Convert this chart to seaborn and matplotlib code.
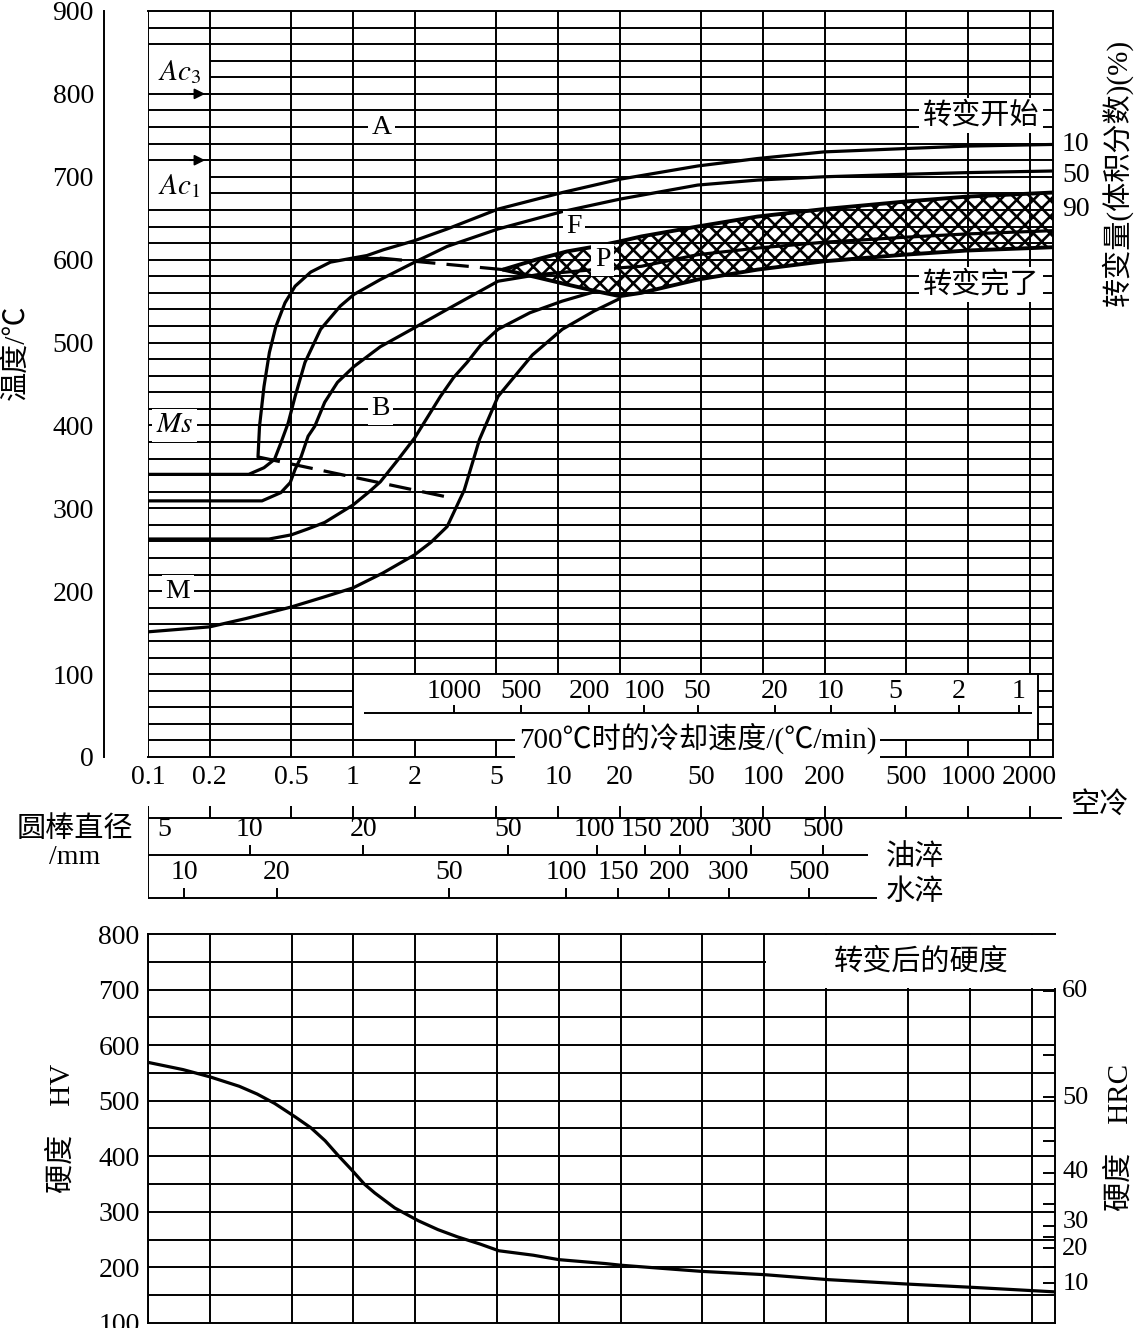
import matplotlib
matplotlib.use("Agg")
import matplotlib.pyplot as plt
import matplotlib.transforms as mtransforms
from matplotlib.patches import Rectangle
from matplotlib.ticker import NullLocator
import numpy as np
import seaborn as sns

# ---------------- values ----------------
time_ticks = [0.1, 0.2, 0.5, 1, 2, 5, 10, 20, 50, 100, 200, 500, 1000, 2000]
time_labels = ["0.1", "0.2", "0.5", "1", "2", "5", "10", "20", "50", "100",
               "200", "500", "1000", "2000"]
temp_ticks = [0, 100, 200, 300, 400, 500, 600, 700, 800, 900]

# transformation start: bainite start -> nose -> 10 % line
start_t = [0.344, 0.35, 0.368, 0.391, 0.42, 0.466, 0.522, 0.622, 0.776, 1.0,
           1.17, 1.41, 2.0, 2.88, 5.1, 10.5, 20, 48, 94, 198, 490, 980, 2600]
start_T = [362, 399, 447, 488, 519, 548, 568, 585, 597, 602,
           605, 612, 623, 637, 661, 681, 697, 713, 722, 730, 734, 737, 739]
# 50 % line
half_t = [0.1, 0.31, 0.368, 0.414, 0.445, 0.483, 0.522, 0.583, 0.695, 0.867,
          1.01, 1.36, 2.0, 2.88, 5.1, 10.5, 20, 48, 94, 198, 490, 980, 2600]
half_T = [341, 341, 349, 359, 379, 403, 435, 476, 516, 544,
          558, 576, 597, 616, 637, 658, 673, 690, 696, 700, 703, 705, 707]
# 90 % line (runs into the pearlite band)
c_t = [0.1, 0.36, 0.445, 0.494, 0.522, 0.558, 0.604, 0.651, 0.728, 0.84, 1.01,
       1.36, 2.0, 2.88, 5.1, 8.0, 15, 25.5, 48, 94, 198, 490, 980, 2600]
c_T = [309, 309, 319, 331, 347, 362, 387, 399, 428, 452, 471,
       495, 518, 540, 574, 582, 588, 592, 606, 614, 621, 627, 631, 635]
d_t = [0.1, 0.39, 0.5, 0.6, 0.728, 1.0, 1.2, 1.36, 1.65, 2.0, 2.67, 3.1, 3.6,
       4.2, 5.1, 7.3, 10.5, 15.4]
d_T = [263, 263, 268, 275, 283, 304, 320, 332, 358, 385, 435, 458, 476,
       497, 516, 536, 550, 562]
e_t = [0.1, 0.2, 0.3, 0.5, 0.7, 1.0, 1.4, 2.0, 2.4, 2.88, 3.49, 4.14, 5.1,
       7.5, 10.5, 15, 20]
e_T = [151, 157, 167, 181, 192, 204, 222, 244, 259, 278, 322, 383, 435,
       485, 516, 538, 553]
knee_t = [1.0, 1.35]
knee_T = [602, 602]
knee_dash_t = [1.35, 5.4]
knee_dash_T = [602, 588]
ms_t = [0.344, 3.1]
ms_T = [362, 312]
band_t = [5.4, 7.8, 11.1, 15.3, 20, 25.5, 48, 94, 198, 490, 980, 2600]
band_top = [588, 600, 610, 616, 622, 628, 640, 652, 661, 670, 676, 681]
band_bot = [588, 579, 570, 562, 556, 560, 576, 588, 598, 606, 611, 615]

# cooling rate at 700 C (degC/min) and where it sits on the time axis
rate_labels = ["1000", "500", "200", "100", "50", "20", "10", "5", "2", "1"]
rate_t = [3.11, 6.6, 14.2, 26.3, 48, 114, 214, 442, 904, 1770]

# round bar diameters (mm)
oil_labels = ["5", "10", "20", "50", "100", "150", "200", "300", "500"]
oil_t = [0.12, 0.313, 1.12, 5.7, 15.5, 26.6, 39.6, 87.7, 196]
water_labels = ["10", "20", "50", "100", "150", "200", "300", "500"]
water_t = [0.15, 0.425, 2.94, 11, 19.7, 35, 68, 167]

# hardness after transformation
hv_ticks = [100, 200, 300, 400, 500, 600, 700, 800]
hard_t = [0.1, 0.148, 0.2, 0.278, 0.34, 0.414, 0.52, 0.622, 0.728, 0.84,
          0.978, 1.13, 1.27, 1.59, 2.07, 2.58, 3.21, 4.14, 5.1, 7.5, 10,
          16.8, 20, 49, 100, 205, 500, 1050, 2600]
hard_hv = [569, 556, 543, 526, 512, 495, 471, 451, 428, 402,
           376, 350, 334, 307, 284, 268, 255, 242, 230, 222, 214,
           207, 204, 193, 187, 178, 170, 164, 156]
hrc_tick_hv = [697, 582, 507, 428, 370, 314, 275, 255, 235, 200, 172]
hrc_labels = ["60", "50", "40", "30", "20", "10"]
hrc_label_hv = [697, 505, 372, 282, 233, 170]

# ---------------- style ----------------
sns.set_theme(style="white")
plt.rcParams["font.family"] = ["Liberation Serif", "Noto Sans CJK SC"]
plt.rcParams.update({
    "mathtext.fontset": "stix",
    "hatch.linewidth": 1.9,
    "text.color": "black",
    "axes.edgecolor": "black",
    "xtick.color": "black",
    "ytick.color": "black",
})

W, H = 1137, 1328
XMAX = 2600
GRID = 1.4
LW = 2.3
FS = 20
CJK = 21


def fx(px):
    return px / W


def fy(py):
    return 1 - py / H


def curve(ax, t, v, lw=LW, **kw):
    sns.lineplot(x=t, y=v, ax=ax, color="black", lw=lw, sort=False,
                 estimator=None, legend=False, zorder=3, **kw)


def boxed(ax, x, y, s, size=FS, **kw):
    ax.text(x, y, s, ha="center", va="center", fontsize=size, zorder=6,
            bbox=dict(boxstyle="square,pad=0.12", fc="white", ec="none"), **kw)


fig = plt.figure(figsize=(W / 100, H / 100), dpi=100)

# ================= CCT diagram =================
ax = fig.add_axes([fx(148), fy(757), fx(1053) - fx(148), (757 - 11) / H])
ax.set_xscale("log")
ax.set_xlim(0.1, XMAX)
ax.set_ylim(0, 900)

grid_T = np.arange(20, 900, 20)
grid_start = [0.2 if T in (680, 700, 820, 840) else 0.1 for T in grid_T]
ax.hlines(grid_T, grid_start, XMAX, color="black", lw=GRID, zorder=1)
ax.vlines(time_ticks, 0, 900, color="black", lw=GRID, zorder=1)

for s in ["top", "right", "bottom"]:
    ax.spines[s].set_linewidth(GRID)
ax.spines["left"].set_position(("outward", 32))
ax.spines["left"].set_linewidth(GRID)

ax.set_yticks(temp_ticks)
ax.tick_params(axis="y", direction="in", length=8.6, width=GRID, pad=7,
               labelsize=FS)
ax.set_xticks(time_ticks, time_labels)
ax.xaxis.set_minor_locator(NullLocator())
ax.tick_params(axis="x", length=0, pad=6, labelsize=FS)
ax.set_xlabel("")
ax.set_ylabel("")

# pearlite band
ax.fill_between(band_t, band_bot, band_top, facecolor="none",
                edgecolor="black", hatch="xx", linewidth=0, zorder=2)
curve(ax, band_t, band_top, lw=2.8)
curve(ax, band_t, band_bot, lw=2.8)

curve(ax, start_t, start_T)
curve(ax, half_t, half_T)
curve(ax, c_t, c_T)
curve(ax, d_t, d_T)
curve(ax, e_t, e_T)
curve(ax, knee_t, knee_T)
curve(ax, knee_dash_t, knee_dash_T, linestyle=(0, (7, 3.5)))
curve(ax, ms_t, ms_T, linestyle=(0, (7, 3.5)))

# Ac arrows
for T in (800, 720):
    ax.annotate("", xy=(0.196, T), xytext=(0.155, T),
                arrowprops=dict(arrowstyle="-|>", color="black", lw=1.2,
                                mutation_scale=16), zorder=4)
ax.text(0.142, 826, r"$Ac_3$", ha="center", va="center", fontsize=FS + 1)
ax.text(0.142, 689, r"$Ac_1$", ha="center", va="center", fontsize=FS + 1)

boxed(ax, 1.38, 760, "A")
boxed(ax, 1.36, 420, "B")
boxed(ax, 0.14, 200, "M")
boxed(ax, 0.135, 400, r"$Ms$", size=FS + 1)
boxed(ax, 12, 640, "F")
boxed(ax, 16.5, 600, "P")
boxed(ax, 1156, 774, "转变开始", size=CJK)
boxed(ax, 1156, 570, "转变完了", size=CJK)

# cooling-rate inset
ax.add_patch(Rectangle((1, 20), 2200 - 1, 80, facecolor="white",
                       edgecolor="black", lw=GRID, zorder=2.2))
ax.hlines(53, 1.13, 2050, color="black", lw=GRID, zorder=3)
ax.vlines(rate_t, 53, 63, color="black", lw=GRID, zorder=3)
for t, lab in zip(rate_t, rate_labels):
    ax.text(t, 79, lab, ha="center", va="center", fontsize=FS, zorder=4)
boxed(ax, 48, 22, "700℃时的冷却速度/(℃/min)", size=CJK)

side = mtransforms.blended_transform_factory(ax.transAxes, ax.transData)
for T, lab in zip([739, 701, 660], ["10", "50", "90"]):
    ax.text(1.01, T, lab, transform=side, ha="left", va="center", fontsize=FS)

fig.text(fx(1117), fy(172), "转变量(体积分数)(%)", rotation=90,
         ha="center", va="center", fontsize=CJK)
fig.text(fx(16), fy(352), "温度/℃", rotation=90, ha="center", va="center",
         fontsize=CJK)

# ================= bar diameter scales =================
ax3 = fig.add_axes([fx(148), fy(905), fx(1053) - fx(148), (905 - 790) / H])
ax3.set_xscale("log")
ax3.set_xlim(0.1, XMAX)
ax3.set_ylim(905, 790)
ax3.axis("off")

ax3.hlines(818, 0.1, 2870, color="black", lw=GRID, clip_on=False)
ax3.vlines(time_ticks, 806, 818, color="black", lw=GRID)
ax3.vlines(0.1, 806, 898, color="black", lw=GRID)

ax3.hlines(855, 0.1, 325, color="black", lw=GRID)
ax3.vlines(oil_t[1:], 845, 855, color="black", lw=GRID)
oil_dx = [0, 0, 0, 0, -3, -4, 9, 0, 0]   # label nudges in px ("150200")
for t, lab, dx in zip(oil_t, oil_labels, oil_dx):
    ax3.annotate(lab, (t, 829), xytext=(dx * 0.72, 0),
                 textcoords="offset points", ha="center", va="center",
                 fontsize=FS)

ax3.hlines(898, 0.1, 360, color="black", lw=GRID)
ax3.vlines(water_t, 888, 898, color="black", lw=GRID)
for t, lab in zip(water_t, water_labels):
    ax3.text(t, 872, lab, ha="center", va="center", fontsize=FS)

fig.text(fx(1100), fy(805), "空冷", ha="center", va="center", fontsize=CJK)
fig.text(fx(915), fy(858), "油淬", ha="center", va="center", fontsize=CJK)
fig.text(fx(915), fy(893), "水淬", ha="center", va="center", fontsize=CJK)
fig.text(fx(75), fy(830), "圆棒直径", ha="center", va="center", fontsize=CJK)
fig.text(fx(75), fy(858), "/mm", ha="center", va="center", fontsize=FS)

# ================= hardness =================
ax2 = fig.add_axes([fx(148), fy(1323), fx(1055) - fx(148), (1323 - 934) / H])
ax2.set_xscale("log")
ax2.set_xlim(0.1, XMAX)
ax2.set_ylim(100, 800)
ax2.hlines(np.arange(150, 800, 50), 0.1, XMAX, color="black", lw=GRID,
           zorder=1)
ax2.vlines(time_ticks, 100, 800, color="black", lw=GRID, zorder=1)
for s in ax2.spines.values():
    s.set_linewidth(GRID)
ax2.add_patch(Rectangle((101.5, 703), 2900, 96, facecolor="white",
                        edgecolor="none", zorder=2.6, clip_on=False))
ax2.text(578, 750, "转变后的硬度", ha="center", va="center", fontsize=CJK,
         zorder=4)
curve(ax2, hard_t, hard_hv)

ax2.set_xticks([])
ax2.xaxis.set_minor_locator(NullLocator())
ax2.set_yticks(hv_ticks)
ax2.tick_params(axis="y", length=0, pad=6, labelsize=FS)
ax2.set_xlabel("")
ax2.set_ylabel("")

ax2r = ax2.twinx()
ax2r.set_ylim(100, 800)
ax2r.set_yticks(hrc_tick_hv, [""] * len(hrc_tick_hv))
ax2r.tick_params(axis="y", direction="in", length=8.6, width=GRID)
for s in ax2r.spines.values():
    s.set_visible(False)
right = mtransforms.blended_transform_factory(ax2.transAxes, ax2.transData)
for v, lab in zip(hrc_label_hv, hrc_labels):
    ax2.text(1.008, v, lab, transform=right, ha="left", va="center",
             fontsize=FS - 1)

fig.text(fx(62), fy(1128), "硬度    HV", rotation=90, ha="center",
         va="center", fontsize=CJK)
fig.text(fx(1120), fy(1137), "硬度    HRC", rotation=90, ha="center",
         va="center", fontsize=CJK)

fig.savefig("out.png", dpi=100)
